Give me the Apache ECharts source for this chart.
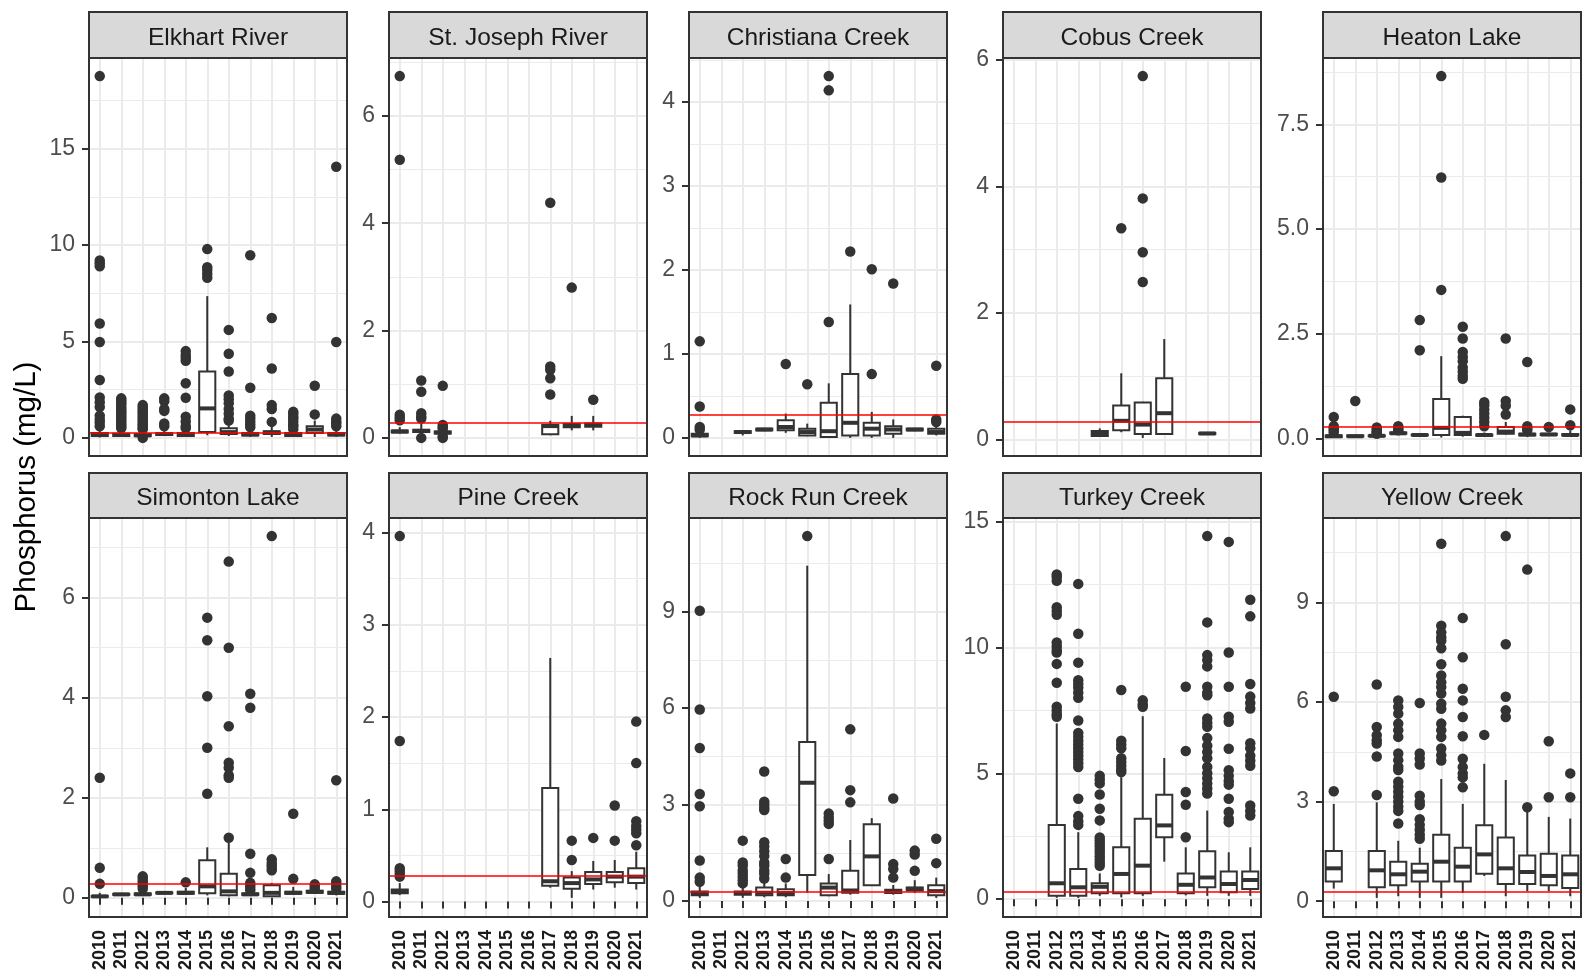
<!DOCTYPE html>
<html>
<head>
<meta charset="utf-8">
<script src="https://cdn.jsdelivr.net/npm/echarts@6/dist/echarts.min.js"></script>
<style>
html,body{margin:0;padding:0;background:#fff;}
#chart{width:1589px;height:973px;}
</style>
</head>
<body>
<div id="chart"></div>
<script>
// ---------------- DATA ----------------
const years = ['2010','2011','2012','2013','2014','2015','2016','2017','2018','2019','2020','2021'];
const sites = ['Elkhart River','St. Joseph River','Christiana Creek','Cobus Creek','Heaton Lake',
               'Simonton Lake','Pine Creek','Rock Run Creek','Turkey Creek','Yellow Creek'];
const threshold = 0.28;
const yStep   = [5, 2, 1, 2, 2.5, 2, 1, 3, 5, 3];
const yDigits = [0, 0, 0, 0, 1, 0, 0, 0, 0, 0];

// box stats per year: [min, Q1, median, Q3, max] or null
const elkhartBox = [
 [0.02,0.1,0.15,0.25,0.5],[0.05,0.1,0.15,0.22,0.4],[0.05,0.1,0.13,0.2,0.35],[0.1,0.15,0.2,0.25,0.35],
 [0.05,0.1,0.15,0.25,0.4],[0.14,0.31,1.53,3.44,7.35],[0.1,0.2,0.3,0.5,0.8],[0.05,0.12,0.18,0.25,0.45],
 [0.05,0.2,0.28,0.35,0.6],[0.05,0.1,0.15,0.25,0.4],[0.05,0.26,0.43,0.61,0.9],[0.05,0.12,0.18,0.25,0.45]];
const elkhartOut = [
 [18.76,9.2,9.05,8.9,5.93,4.97,3.0,2.1,1.85,1.6,1.15,0.95,0.8,0.6],
 [2.05,1.95,1.85,1.75,1.6,1.5,1.4,1.3,1.2,1.1,1.0,0.9,0.8,0.7,0.6,0.5],
 [1.7,1.6,1.5,1.4,1.3,1.2,1.1,1.0,0.9,0.8,0.7,0.6,0.5,0.45,0.0],
 [2.05,1.9,1.5,1.4,0.75,0.6],
 [4.5,4.3,4.15,4.0,2.83,2.08,1.1,0.85,0.6,0.5],
 [9.79,8.85,8.7,8.5,8.3],
 [5.6,4.36,3.44,2.2,2.0,1.8,1.5,1.25,1.0,0.9],
 [9.47,2.6,1.15,1.0,0.85,0.7,0.55],
 [6.22,3.6,1.7,1.5,0.83],
 [1.35,1.25,1.1,1.0,0.85,0.7,0.6,0.45],
 [2.7,1.22],
 [14.06,4.97,1.0,0.85,0.75,0.6]];

const stjoeBox = [
 [0.08,0.1,0.12,0.14,0.2],[0.05,0.11,0.13,0.15,0.27],[0.07,0.08,0.1,0.12,0.15],null,
 null,null,null,[0.05,0.07,0.22,0.24,0.32],
 [0.14,0.2,0.23,0.26,0.41],[0.14,0.21,0.24,0.27,0.41],null,null];
const stjoeOut = [
 [6.74,5.18,0.43,0.38,0.33],[1.07,0.86,0.46,0.4,0.36,0.0],[0.97,0.24,0.2,0.17,0.03,0.0],[],
 [],[],[],[4.38,1.33,1.27,1.11,0.81],
 [2.8],[0.71],[],[]];

const christianaBox = [
 [0.0,0.02,0.03,0.05,0.08],null,[0.03,0.06,0.07,0.08,0.09],[0.08,0.09,0.1,0.11,0.12],
 [0.06,0.09,0.13,0.21,0.29],[0.02,0.03,0.07,0.11,0.17],[0.0,0.01,0.08,0.42,0.65],[0.0,0.03,0.18,0.76,1.59],
 [0.0,0.03,0.11,0.18,0.31],[0.0,0.05,0.1,0.14,0.22],[0.08,0.09,0.1,0.11,0.12],[0.03,0.05,0.07,0.11,0.15]];
const christianaOut = [
 [1.15,0.375,0.13,0.1],[],[],[],
 [0.88],[0.64],[4.31,4.14,1.38],[2.22],
 [2.01,0.76],[1.84],[],[0.86,0.22,0.19]];

const cobusBox = [
 null,null,null,null,
 [0.05,0.06,0.1,0.14,0.18],[0.12,0.15,0.3,0.54,1.05],[0.03,0.09,0.24,0.59,0.6],[0.09,0.09,0.42,0.97,1.59],
 null,[0.08,0.09,0.1,0.11,0.12],null,null];
const cobusOut = [[],[],[],[],[],[3.34],[5.74,3.81,2.96,2.49],[],[],[],[],[]];

const heatonBox = [
 [0.02,0.04,0.06,0.08,0.12],[0.04,0.05,0.06,0.08,0.1],[0.05,0.06,0.07,0.08,0.1],[0.1,0.12,0.13,0.15,0.17],
 [0.06,0.08,0.09,0.1,0.12],[0.03,0.09,0.26,0.95,1.97],[0.05,0.09,0.14,0.52,0.55],[0.06,0.07,0.09,0.1,0.15],
 [0.1,0.12,0.17,0.28,0.4],[0.04,0.08,0.1,0.12,0.15],[0.08,0.09,0.1,0.12,0.15],[0.06,0.08,0.09,0.11,0.2]];
const heatonOut = [
 [0.52,0.3,0.25,0.2,0.15],[0.9],[0.27,0.22,0.18,0.15,0.12],[0.3,0.26,0.22,0.2],
 [2.83,2.11],[8.65,6.23,3.55],[2.67,2.39,2.07,1.95,1.85,1.7,1.6,1.5,1.43],[0.87,0.8,0.7,0.6,0.5,0.4,0.3],
 [2.39,0.9,0.79,0.58],[1.83,0.3,0.25,0.2],[0.28],[0.7,0.32]];

const simontonBox = [
 [0.0,0.02,0.03,0.04,0.1],[0.05,0.06,0.07,0.08,0.1],[0.04,0.06,0.07,0.09,0.12],[0.08,0.09,0.1,0.11,0.12],
 [0.06,0.08,0.1,0.12,0.2],[0.05,0.09,0.23,0.75,1.01],[0.03,0.05,0.13,0.48,1.1],[0.05,0.06,0.07,0.09,0.12],
 [0.02,0.03,0.1,0.25,0.3],[0.06,0.08,0.1,0.12,0.22],[0.08,0.1,0.12,0.14,0.16],[0.05,0.08,0.1,0.12,0.15]];
const simontonOut = [
 [2.4,0.6,0.28],[],[0.43,0.38,0.33,0.28,0.23,0.18],[],
 [0.31],[5.6,5.15,4.03,3.0,2.08],[6.72,5.0,3.43,2.7,2.6,2.45,2.4,1.2],[4.08,3.8,0.88,0.5,0.3,0.25,0.2,0.15],
 [7.23,0.77,0.7,0.65,0.6,0.55],[1.68,0.38],[0.27,0.22,0.18],[2.35,0.33,0.28,0.22,0.18]];

const pineBox = [
 [0.07,0.09,0.11,0.13,0.2],null,null,null,
 null,null,null,[0.15,0.17,0.22,1.23,2.64],
 [0.04,0.14,0.2,0.26,0.33],[0.13,0.19,0.24,0.32,0.44],[0.15,0.21,0.27,0.32,0.45],[0.13,0.2,0.27,0.36,0.54]];
const pineOut = [
 [3.96,1.74,0.36,0.33,0.3,0.27],[],[],[],
 [],[],[],[],
 [0.66,0.45],[0.69],[1.04,0.66],[1.95,1.5,0.87,0.82,0.78,0.74,0.61]];

const rockBox = [
 [0.1,0.18,0.22,0.3,0.5],null,[0.1,0.2,0.25,0.3,0.45],[0.12,0.18,0.26,0.42,0.6],
 [0.12,0.18,0.25,0.37,0.55],[0.26,0.81,3.68,4.95,10.43],[0.15,0.18,0.42,0.55,0.84],[0.2,0.26,0.33,0.94,1.9],
 [0.49,0.49,1.39,2.39,2.58],[0.2,0.25,0.3,0.35,0.5],[0.25,0.33,0.38,0.42,0.65],[0.1,0.18,0.31,0.49,0.73]];
const rockOut = [
 [9.03,5.96,4.76,3.33,2.95,1.26,0.73,0.6],[],[1.88,1.2,1.1,0.95,0.85,0.75,0.65,0.55],
 [4.03,3.09,3.0,2.9,2.83,1.83,1.7,1.55,1.4,1.2,1.1,0.95,0.85,0.7],
 [1.31,0.73],[11.35],[2.72,2.6,2.5,2.4,1.31],[5.34,3.45,3.07],
 [],[3.19,1.15,1.0,0.73],[1.57,1.45,0.94],[1.94,1.18]];

const turkeyBox = [
 null,null,[0.05,0.13,0.63,2.95,6.98],[0.05,0.13,0.47,1.2,2.66],
 [0.13,0.23,0.49,0.63,1.02],[0.07,0.23,1.0,2.06,4.85],[0.13,0.23,1.33,3.19,7.27],[1.49,2.46,2.93,4.15,5.61],
 [0.15,0.23,0.57,1.02,2.06],[0.13,0.47,0.86,1.9,3.52],[0.13,0.27,0.6,1.1,1.86],[0.13,0.4,0.76,1.1,2.06]];
const turkeyOut = [
 [],[],
 [12.9,12.8,12.65,11.6,11.45,11.3,10.2,10.05,9.9,9.8,9.35,8.6,7.65,7.5,7.35,7.25],
 [12.53,10.55,9.4,8.7,8.55,8.4,8.2,8.0,7.1,6.6,6.45,6.3,6.15,6.0,5.85,5.7,5.55,5.4,5.25,3.99,3.3,3.1,2.95],
 [4.9,4.75,4.6,4.16,3.59,3.13,2.45,2.33,2.2,2.08,1.95,1.83,1.7,1.58,1.45,1.33],
 [8.31,6.3,6.15,6.0,5.6,5.45,5.3,5.15,5.05],
 [7.9,7.75,7.65],
 [],
 [8.44,5.89,4.26,3.75,2.46],
 [14.43,11.0,9.7,9.5,9.25,8.44,8.2,8.1,7.18,7.0,6.85,6.4,6.1,5.85,5.6,5.25,5.0,4.8,4.6,4.4,4.2],
 [14.2,9.8,8.44,7.25,7.05,5.98,5.12,4.9,4.7,4.55,3.99,3.46,3.2,3.06],
 [11.9,11.24,8.55,8.05,7.8,7.58,6.2,6.0,5.7,5.5,5.3,3.72,3.5,3.32]];

const yellowBox = [
 [0.38,0.59,0.99,1.51,2.93],null,[0.1,0.42,0.93,1.51,2.98],[0.15,0.48,0.81,1.19,1.82],
 [0.1,0.59,0.89,1.13,1.61],[0.1,0.59,1.19,2.0,3.68],[0.25,0.59,1.04,1.61,2.93],[0.76,0.83,1.41,2.29,4.14],
 [0.15,0.52,0.99,1.92,3.65],[0.3,0.52,0.88,1.38,2.75],[0.3,0.48,0.76,1.43,2.54],[0.15,0.4,0.81,1.38,2.49]];
const yellowOut = [
 [6.16,3.31],[],[6.53,5.25,5.0,4.85,4.75,4.36,3.2],
 [6.05,5.85,5.65,5.35,5.15,4.95,4.45,4.25,4.05,3.95,3.6,3.45,3.3,3.15,3.0,2.85,2.72,2.34],
 [5.97,4.45,4.3,4.12,3.18,3.0,2.9,2.47,2.3,2.15,2.0,1.88],
 [10.77,8.3,8.1,7.95,7.85,7.62,7.14,6.8,6.6,6.45,6.26,5.95,5.8,5.35,5.15,4.95,4.6,4.4,4.24],
 [8.53,7.35,6.4,6.05,5.55,4.97,4.29,4.04,3.85,3.73,3.43],
 [5.01],[11.0,7.74,6.16,5.75,5.55],[9.99,2.83],[4.82,3.13],[3.85,3.13]];

const allBoxes = [elkhartBox, stjoeBox, christianaBox, cobusBox, heatonBox,
                  simontonBox, pineBox, rockBox, turkeyBox, yellowBox];
const allOuts  = [elkhartOut, stjoeOut, christianaOut, cobusOut, heatonOut,
                  simontonOut, pineOut, rockOut, turkeyOut, yellowOut];

// ---------------- LAYOUT ----------------
const FONT = '"Liberation Sans", Arial, Helvetica, sans-serif';
const colLeft = [89, 389, 689, 1003, 1323];
const panelW = 258;
const rowStripTop = [12, 473];
const rowPlotTop = [58, 518];
const rowPlotH = [398, 399];

const chart = echarts.init(document.getElementById('chart'), null, {renderer: 'canvas'});

function renderBox(params, api) {
  const x = api.value(0);
  const pLo = api.coord([x, api.value(1)]);
  const pQ1 = api.coord([x, api.value(2)]);
  const pMd = api.coord([x, api.value(3)]);
  const pQ3 = api.coord([x, api.value(4)]);
  const pHi = api.coord([x, api.value(5)]);
  const bw = api.size([1, 0])[0] * 0.75;
  const cx = pLo[0];
  const ls = {stroke: '#333333', lineWidth: 2, fill: null};
  return {
    type: 'group',
    children: [
      {type: 'line', shape: {x1: cx, y1: pHi[1], x2: cx, y2: pQ3[1]}, style: ls},
      {type: 'line', shape: {x1: cx, y1: pQ1[1], x2: cx, y2: pLo[1]}, style: ls},
      {type: 'rect', shape: {x: cx - bw / 2, y: pQ3[1], width: bw, height: Math.max(pQ1[1] - pQ3[1], 0.5)},
       style: {fill: '#ffffff', stroke: '#333333', lineWidth: 2}},
      {type: 'line', shape: {x1: cx - bw / 2, y1: pMd[1], x2: cx + bw / 2, y2: pMd[1]},
       style: {stroke: '#333333', lineWidth: 4}}
    ]
  };
}

const grids = [], xAxes = [], yAxes = [], series = [], graphics = [];

sites.forEach((name, i) => {
  const row = i < 5 ? 0 : 1;
  const col = i % 5;
  const left = colLeft[col];
  const top = rowPlotTop[row];
  const h = rowPlotH[row];
  const bottomRow = row === 1;
  const boxes = allBoxes[i];
  const outs = allOuts[i];

  // data extent (ggplot style 5% expansion)
  let lo = threshold, hi = threshold;
  boxes.forEach(b => { if (b) { lo = Math.min(lo, b[0]); hi = Math.max(hi, b[4]); } });
  outs.forEach(o => o.forEach(v => { lo = Math.min(lo, v); hi = Math.max(hi, v); }));
  const pad = (hi - lo) * 0.05;
  const yMin = lo - pad, yMax = hi + pad;
  const step = yStep[i];
  const ticks = [];
  for (let t = Math.ceil(yMin / step) * step; t <= yMax + 1e-9; t += step) ticks.push(+t.toFixed(6));

  grids.push({left: left, top: top, width: panelW, height: h, containLabel: false});

  xAxes.push({
    type: 'category', gridIndex: i, data: years, boundaryGap: true, position: 'bottom',
    axisLine: {show: false},
    axisTick: {show: bottomRow, alignWithLabel: true, length: 7, lineStyle: {color: '#333333', width: 2}},
    axisLabel: {show: bottomRow, interval: 0, rotate: 90, margin: 14, fontSize: 18, fontWeight: 'bold',
                color: '#1a1a1a', fontFamily: FONT},
    splitLine: {show: false}
  });
  xAxes.push({
    type: 'value', gridIndex: i, position: 'top', min: 0.5, max: 12.5, minInterval: 1, maxInterval: 1,
    axisLine: {show: false}, axisTick: {show: false}, axisLabel: {show: false},
    splitLine: {show: true, lineStyle: {color: '#ebebeb', width: 2}}
  });
  yAxes.push({
    type: 'value', gridIndex: i, min: yMin, max: yMax, minInterval: step, maxInterval: step,
    axisLine: {show: false},
    axisTick: {show: true, length: 7, lineStyle: {color: '#333333', width: 2}, customValues: ticks},
    axisLabel: {customValues: ticks, margin: 14, fontSize: 23, color: '#4d4d4d', fontFamily: FONT,
                formatter: v => Number(v).toFixed(yDigits[i])},
    splitLine: {show: true, lineStyle: {color: '#ebebeb', width: 2}},
    minorTick: {show: false, splitNumber: 2},
    minorSplitLine: {show: true, lineStyle: {color: '#ebebeb', width: 1}}
  });

  const outData = [];
  outs.forEach((list, k) => list.forEach(v => outData.push([k, v])));
  series.push({
    type: 'scatter', xAxisIndex: 2 * i, yAxisIndex: i, data: outData, symbol: 'circle', symbolSize: 10.5,
    itemStyle: {color: '#333333', opacity: 1}, z: 2, silent: true, animation: false
  });
  const boxData = [];
  boxes.forEach((b, k) => { if (b) boxData.push([k].concat(b)); });
  series.push({
    type: 'custom', xAxisIndex: 2 * i, yAxisIndex: i, data: boxData, renderItem: renderBox,
    encode: {x: 0, y: [1, 2, 3, 4, 5]}, z: 3, silent: true, animation: false
  });
  series.push({
    type: 'scatter', xAxisIndex: 2 * i, yAxisIndex: i, data: [], z: 4, silent: true, animation: false,
    markLine: {silent: true, symbol: 'none', animation: false, label: {show: false},
               lineStyle: {color: '#ff0000', width: 1.6, type: 'solid'},
               data: [{yAxis: threshold}]}
  });

  // strip
  const sTop = rowStripTop[row];
  graphics.push({
    type: 'rect', z: 100, shape: {x: left, y: sTop, width: panelW, height: top - sTop},
    style: {fill: '#d9d9d9', stroke: '#333333', lineWidth: 2}
  });
  graphics.push({
    type: 'text', z: 101, x: left + panelW / 2, y: sTop + (top - sTop) / 2 + 3,
    style: {text: name, fill: '#1a1a1a', font: '24.5px ' + FONT, textAlign: 'center', textVerticalAlign: 'middle'}
  });
  // panel border
  graphics.push({
    type: 'rect', z: 100, shape: {x: left, y: top, width: panelW, height: h},
    style: {fill: null, stroke: '#333333', lineWidth: 2}
  });
});

graphics.push({
  type: 'text', z: 101, x: 27, y: 487, rotation: Math.PI / 2,
  style: {text: 'Phosphorus (mg/L)', fill: '#000000', font: '29.5px ' + FONT, textAlign: 'center', textVerticalAlign: 'middle'}
});

chart.setOption({
  animation: false,
  backgroundColor: '#ffffff',
  grid: grids,
  xAxis: xAxes,
  yAxis: yAxes,
  series: series,
  graphic: {elements: graphics}
});
</script>
</body>
</html>
